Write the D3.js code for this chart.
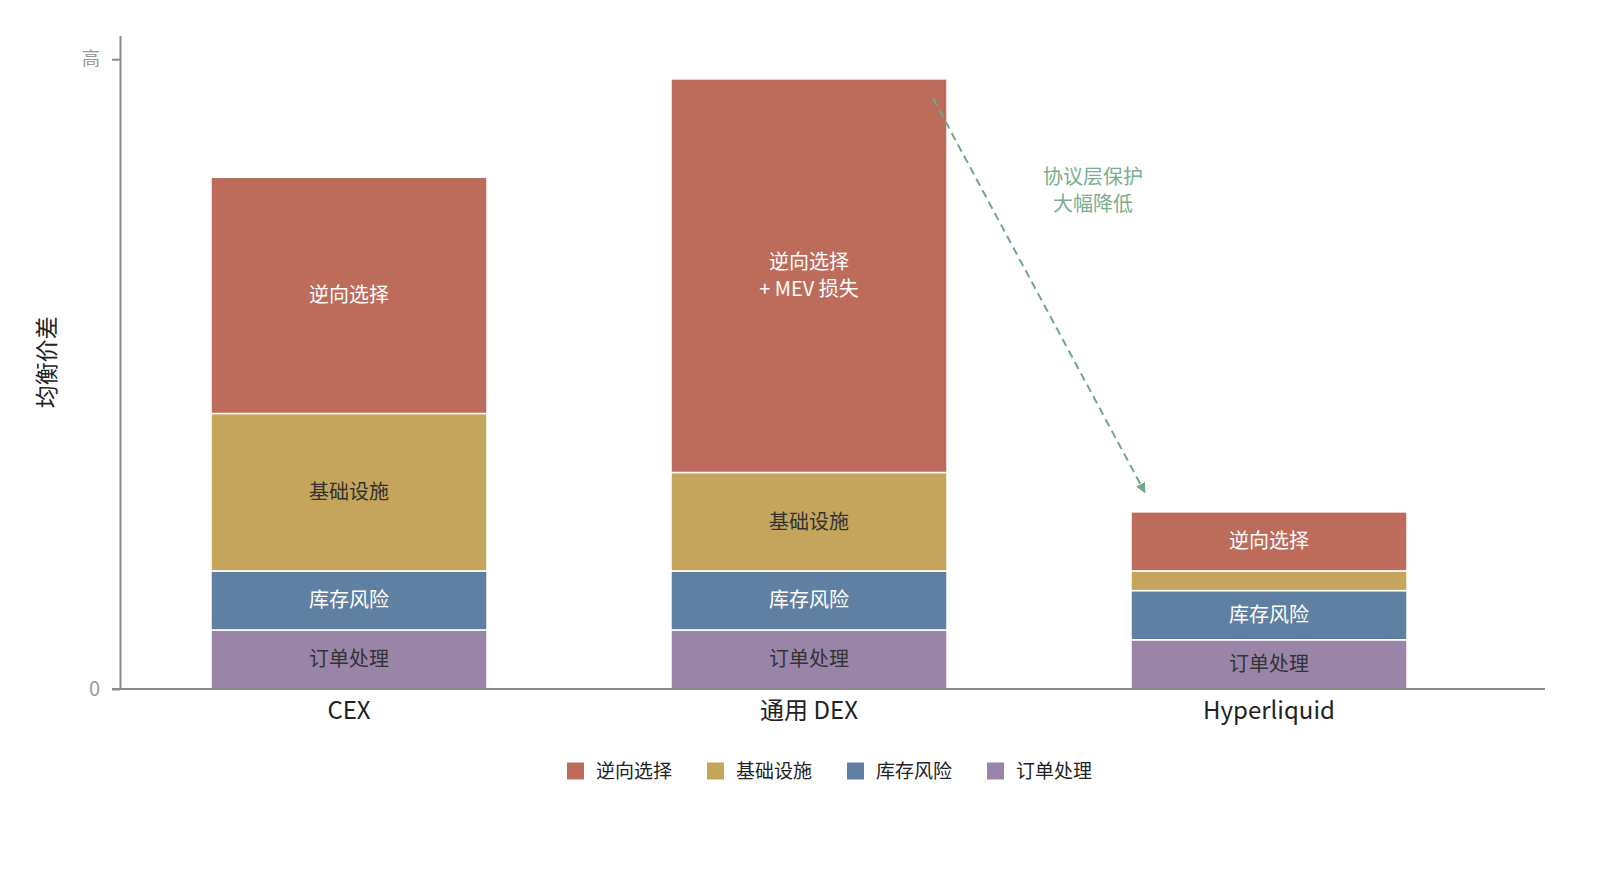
<!DOCTYPE html>
<html>
<head>
<meta charset="utf-8">
<script src="https://cdn.jsdelivr.net/npm/d3@7"></script>
<style>
  body { margin: 0; background: #fff; }
  svg { font-family: "Noto Sans CJK SC", "Noto Sans", sans-serif; }
  .axis path, .axis line { stroke: #8a8a8a; stroke-width: 2; }
  .yaxis text { fill: #999; }
  .xaxis text { fill: #222; }
</style>
</head>
<body>
<svg width="1600" height="889"></svg>
<script>
// data
const venues = ['CEX', '通用 DEX', 'Hyperliquid']
const layers = ['订单处理', '库存风险', '基础设施', '逆向选择']
const orderCost = [1.5, 1.5, 1.25]
const inventoryCost = [1.5, 1.5, 1.25]
const infraCost = [4, 2.5, 0.5]
const adverseCost = [6, 10, 1.5]
const legendOrder = ['逆向选择', '基础设施', '库存风险', '订单处理']
const yTickValues = [0, 16]
const yTickLabels = ['0', '高']
const topLabels = ['逆向选择', '逆向选择\n+ MEV 损失', '逆向选择']

const colors = {
  '逆向选择': '#bd6b5a',
  '基础设施': '#c4a55b',
  '库存风险': '#5f80a2',
  '订单处理': '#9a84a8'
}
const textColors = {
  '逆向选择': '#fff',
  '基础设施': '#333',
  '库存风险': '#fff',
  '订单处理': '#333'
}

const rows = venues.map((v, i) => ({
  venue: v,
  '订单处理': orderCost[i],
  '库存风险': inventoryCost[i],
  '基础设施': infraCost[i],
  '逆向选择': adverseCost[i]
}))

const svg = d3.select('svg')

const x = d3.scaleBand().domain(venues).range([119, 1545])
  .paddingInner(0.4).paddingOuter(0.25).align(0.4)
const y = d3.scaleLinear().domain([0, 16.6]).range([689, 35.6])

const stack = d3.stack().keys(layers)(rows)

// bars
const g = svg.append('g')
stack.forEach(layer => {
  const key = layer.key
  g.selectAll(null).data(layer).join('rect')
    .attr('x', d => x(d.data.venue))
    .attr('y', d => y(d[1]))
    .attr('width', x.bandwidth())
    .attr('height', d => y(d[0]) - y(d[1]))
    .attr('fill', colors[key])
    .attr('stroke', '#fff')
    .attr('stroke-width', 1.5)

  layer.forEach((d, i) => {
    const h = y(d[0]) - y(d[1])
    if (h < 30) return
    const label = key == '逆向选择' ? topLabels[i] : key
    const lines = label.split('\n')
    const cy = (y(d[0]) + y(d[1])) / 2
    const t = g.append('text')
      .attr('text-anchor', 'middle')
      .attr('font-size', 20)
      .attr('fill', textColors[key])
    lines.forEach((ln, k) => {
      t.append('tspan')
        .attr('x', x(d.data.venue) + x.bandwidth() / 2)
        .attr('y', cy + (k - (lines.length - 1) / 2) * 27)
        .attr('dy', '0.35em')
        .text(ln)
    })
  })
})

// axes
const xAxis = svg.append('g').attr('class', 'axis xaxis')
  .attr('transform', `translate(0,${y(0)})`)
  .call(d3.axisBottom(x).tickSize(0).tickSizeOuter(0).tickPadding(13))
xAxis.select('.domain').attr('d', `M112,0H${x.range()[1]}`)
xAxis.selectAll('text').attr('font-size', 24)
  .attr('font-family', '"Noto Sans CJK SC", sans-serif')

const yAxis = svg.append('g').attr('class', 'axis yaxis')
  .attr('transform', 'translate(120,0)')
  .call(d3.axisLeft(y).tickValues(yTickValues)
    .tickFormat((d, i) => yTickLabels[i]).tickSize(8).tickSizeOuter(0).tickPadding(12))
yAxis.selectAll('text').attr('font-size', d => d == 0 ? 20 : 18)
  .attr('font-family', '"Noto Sans CJK SC", sans-serif')

svg.append('text')
  .attr('transform', `translate(55,${(y(0) + y(16.6)) / 2}) rotate(-90)`)
  .attr('text-anchor', 'middle')
  .attr('font-size', 23)
  .attr('fill', '#222')
  .text('均衡价差')

// annotation arrow
const green = '#6fa88a'
svg.append('defs').append('marker')
  .attr('id', 'ah').attr('viewBox', '0 0 10 10')
  .attr('refX', 9).attr('refY', 5)
  .attr('markerWidth', 5).attr('markerHeight', 5)
  .attr('orient', 'auto')
  .append('path').attr('d', 'M0,0L10,5L0,10z').attr('fill', green)

const x0 = x('通用 DEX') + x.bandwidth() * 0.95
const x1 = x('Hyperliquid') + x.bandwidth() * 0.05
svg.append('line')
  .attr('x1', x0).attr('y1', y(15))
  .attr('x2', x1).attr('y2', y(5))
  .attr('stroke', green).attr('stroke-width', 2)
  .attr('stroke-dasharray', '8,5')
  .attr('marker-end', 'url(#ah)')

const note = svg.append('text').attr('text-anchor', 'middle')
  .attr('font-size', 20).attr('fill', '#7aae8e')
;['协议层保护', '大幅降低'].forEach((s, k) => {
  note.append('tspan').attr('x', 1093).attr('y', y(13) + k * 27).attr('dy', '0.35em').text(s)
})

// legend
const legend = svg.append('g').attr('transform', 'translate(567,771)')
legendOrder.forEach((k, i) => {
  const it = legend.append('g').attr('transform', `translate(${i * 140},0)`)
  it.append('rect').attr('x', 0).attr('y', -8.5).attr('width', 17).attr('height', 17)
    .attr('fill', colors[k])
  it.append('text').attr('x', 29).attr('dy', '0.35em')
    .attr('font-size', 19).attr('fill', '#222').text(k)
})
</script>
</body>
</html>
